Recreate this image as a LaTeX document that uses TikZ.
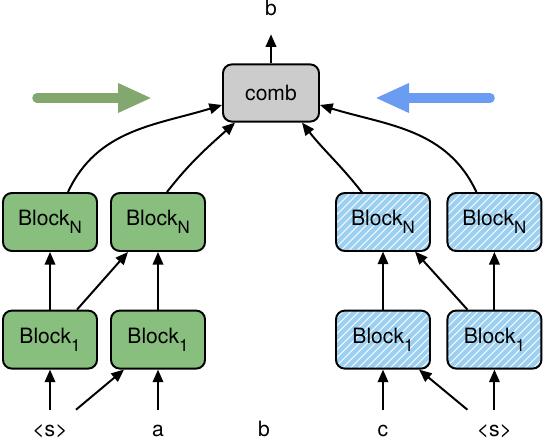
\documentclass[tikz,border=0pt]{standalone}
\usepackage{fontspec}
\setmainfont{TeX Gyre Heros}
\usepackage{xcolor}
\usetikzlibrary{arrows.meta,patterns.meta}
\definecolor{blockgreen}{HTML}{88BE7E}
\definecolor{blockblue}{HTML}{9DCFF0}
\definecolor{combgray}{HTML}{CCCCCC}
\definecolor{arrowgreen}{HTML}{82A870}
\definecolor{arrowblue}{HTML}{6A9CF2}
\newcommand\blocklabel[1]{Block\raisebox{-5.5pt}{\fontsize{12pt}{13pt}\selectfont #1}}

\begin{document}
\begin{tikzpicture}[font=\fontsize{15pt}{18pt}\selectfont,
	blk/.style={draw, line width=1.4pt, rounded corners=0.22cm, minimum width=2.35cm, minimum height=1.45cm, inner sep=0pt},
	gblk/.style={blk, fill=blockgreen},
	bblk/.style={blk, preaction={fill=blockblue}, pattern={Lines[angle=45,distance=4pt,line width=0.8pt]}, pattern color=white!70!blockblue},
	flow/.style={line width=1.4pt, -{Triangle[length=9pt,width=7.5pt]}},
	tok/.style={anchor=base, inner sep=0pt, text height=0.3cm, text depth=0pt},
	bigarrow/.style={line width=0.24cm, line cap=round, -{Triangle[length=0.85cm,width=0.68cm]}}]
	\useasboundingbox (0,0) rectangle (13.6,11);
	\node[blk, fill=combgray, minimum width=2.4cm, minimum height=1.43cm] (comb) at (6.775,8.675) {comb};
	\node[tok] (out) at (6.775,10.6) {b};
	\draw[flow, shorten >=0.45cm] (comb) -- (out);
	\coordinate (gtail) at (0.925,8.55);
	\coordinate (ghead) at (3.8,8.55);
	\coordinate (btail) at (12.25,8.55);
	\coordinate (bhead) at (9.375,8.55);
	\draw[bigarrow, color=arrowgreen] (gtail) -- (ghead);
	\draw[bigarrow, color=arrowblue] (btail) -- (bhead);
	\node[gblk] (gN1) at (1.25,5.45) {\blocklabel{N}};
	\node[gblk] (gN2) at (3.95,5.45) {\blocklabel{N}};
	\node[bblk] (bN1) at (9.575,5.45) {\blocklabel{N}};
	\node[bblk] (bN2) at (12.36,5.45) {\blocklabel{N}};
	\node[gblk] (g11) at (1.25,2.51) {\blocklabel{1}};
	\node[gblk] (g12) at (3.95,2.51) {\blocklabel{1}};
	\node[bblk] (b11) at (9.575,2.51) {\blocklabel{1}};
	\node[bblk] (b12) at (12.36,2.51) {\blocklabel{1}};
	\node[tok] (s1) at (1.25,0.1) {<s>};
	\node[tok] (wa) at (3.95,0.1) {a};
	\node[tok] (wb) at (6.6,0.1) {b};
	\node[tok] (wc) at (9.575,0.1) {c};
	\node[tok] (s2) at (12.36,0.1) {<s>};
	\draw[flow, shorten <=0.35cm] (s1) -- (g11);
	\draw[flow, shorten <=0.35cm] (wa) -- (g12);
	\draw[flow, shorten <=0.35cm] (wc) -- (b11);
	\draw[flow, shorten <=0.35cm] (s2) -- (b12);
	\draw[flow] ([xshift=0.65cm,yshift=0.35cm]s1.north) -- ([xshift=-0.85cm]g12.south);
	\draw[flow] ([xshift=-0.675cm,yshift=0.35cm]s2.north) -- ([xshift=0.9cm]b11.south);
	\draw[flow] (g11) -- (gN1);
	\draw[flow] (g12) -- (gN2);
	\draw[flow] (b11) -- (bN1);
	\draw[flow] (b12) -- (bN2);
	\draw[flow] ([xshift=0.675cm]g11.north) -- ([xshift=-0.75cm]gN2.south);
	\draw[flow] ([xshift=-0.675cm]b12.north) -- ([xshift=0.8cm]bN1.south);
	\draw[flow] ([xshift=0.45cm]gN1.north) to[out=65,in=197] ([yshift=-0.3cm]comb.west);
	\draw[flow] ([xshift=0.225cm]gN2.north) to[out=52,in=222] ([xshift=-0.9cm]comb.south);
	\draw[flow] ([xshift=-0.525cm]bN1.north) to[out=128,in=-52] ([xshift=0.775cm]comb.south);
	\draw[flow] ([xshift=-0.45cm]bN2.north) to[out=115,in=-17] ([yshift=-0.3cm]comb.east);
\end{tikzpicture}
\end{document}
